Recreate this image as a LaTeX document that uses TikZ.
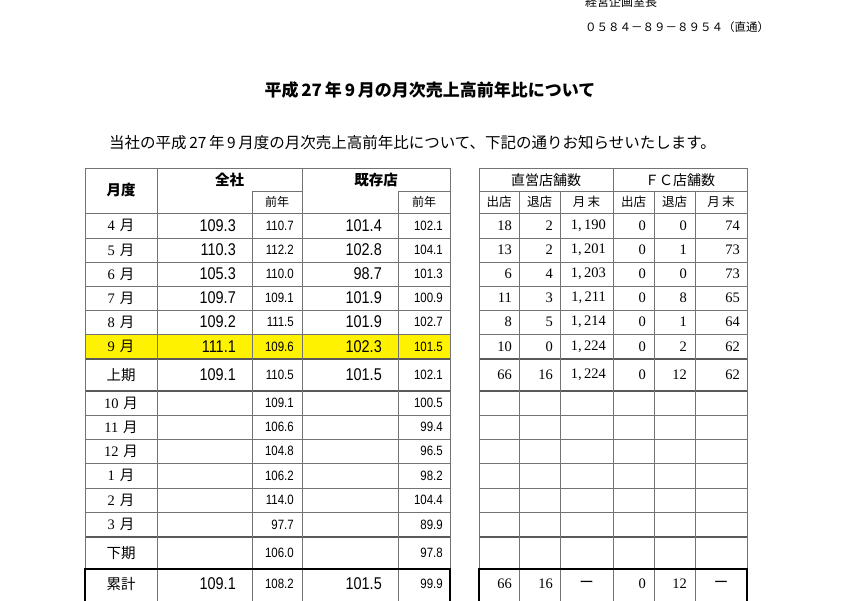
\documentclass[tikz,border=0pt]{standalone}
\usepackage{fontspec}
\setmainfont{Liberation Serif}
\newfontfamily\jp{Noto Sans CJK JP}
\newfontfamily\gothnum{Liberation Sans}[FakeStretch=0.85]
\tikzset{
  grid/.style={draw=black!55, line width=0.9pt},
  dbl/.style={draw=black!65, line width=2pt},
  sumbox/.style={draw=black, line width=1.8pt},
  big/.style={font=\gothnum\fontsize{17}{17}\selectfont, anchor=east, inner sep=0pt},
  small/.style={font=\gothnum\fontsize{13.5}{13.5}\selectfont, anchor=east, inner sep=0pt},
  cnt/.style={font=\fontsize{14.5}{14.5}\selectfont, anchor=east, inner sep=0pt},
  mon/.style={font=\fontsize{14.5}{14.5}\selectfont, inner sep=0pt},
  head/.style={font=\jp\bfseries\fontsize{14.5}{14.5}\selectfont, inner sep=0pt},
  subhead/.style={font=\jp\fontsize{12}{12}\selectfont, inner sep=0pt},
  rhead/.style={font=\jp\fontsize{14}{14}\selectfont, inner sep=0pt},
}
\newcommand{\mo}[1]{#1\,\,{\jp 月}}
\begin{document}
\begin{tikzpicture}[x=1pt, y=-1pt]
  \useasboundingbox (0,0) rectangle (849,600);
  \clip (0,0) rectangle (849,600);

  % heading
  \node[font=\jp\fontsize{12}{12}\selectfont, anchor=west, inner sep=0pt] (dept) at (585,1.5) {経営企画室長};
  \node[font=\jp\fontsize{11.5}{11.5}\selectfont, anchor=west, inner sep=0pt] (phone) at (585,27) {０５８４－８９－８９５４（直通）};
  \node[font=\jp\bfseries\fontsize{17}{17}\selectfont, inner sep=0pt] (title) at (430,90) {平成\,27\,年\,9\,月の月次売上高前年比について};
  \node[font=\jp\fontsize{15.5}{15.5}\selectfont, inner sep=0pt] (lead) at (412.5,143) {当社の平成\,27\,年\,9\,月度の月次売上高前年比について、下記の通りお知らせいたします。};

  % current month
  \fill[yellow] (85,334) rectangle (450,359);

  % grid
  \foreach \y in {168,213,238,262,286,310,334,415,439,463,488,512}
    \draw[grid] (85,\y) -- (450,\y) (479,\y) -- (747,\y);
  \draw[grid] (252,191) -- (302,191) (398,191) -- (450,191) (479,191) -- (747,191);
  \foreach \y in {359,391,537}
    \draw[dbl] (85,\y) -- (450,\y) (479,\y) -- (747,\y);
  \foreach \x in {85,157,302,450,479,613,747}
    \draw[grid] (\x,168) -- (\x,569);
  \foreach \x in {252,398,519,560,654,695}
    \draw[grid] (\x,191) -- (\x,569);
  \foreach \x in {157,252,302,398,519,560,613,654,695}
    \draw[grid] (\x,569) -- (\x,604);
  \draw[sumbox] (85,604) -- (85,569) -- (450,569) -- (450,604);
  \draw[sumbox] (479,604) -- (479,569) -- (747,569) -- (747,604);

  % table heads
  \node[head] (hmonth) at (121,190.5) {月度};
  \node[head] (hall) at (229.5,180) {全社};
  \node[head] (hexist) at (376,180) {既存店};
  \node[subhead] (hprev) at (277,202) {前年};
  \node[subhead] (hprevx) at (424,202) {前年};
  \node[rhead] (hdirect) at (546,180) {直営店舗数};
  \node[rhead] (hfc) at (680,180) {ＦＣ店舗数};
  \foreach \x/\t [count=\i] in {499/出店,539.5/退店,586.5/月\,末,633.5/出店,674.5/退店,721/月\,末}
    \node[subhead, font=\jp\fontsize{12.5}{12.5}\selectfont] (hcol\i) at (\x,202) {\t};

  % sales ratios
  \foreach \m/\y/\a/\b/\c/\d [count=\i] in {
      \mo{4}/225.5/109.3/110.7/101.4/102.1,
      \mo{5}/250/110.3/112.2/102.8/104.1,
      \mo{6}/274/105.3/110.0/98.7/101.3,
      \mo{7}/298/109.7/109.1/101.9/100.9,
      \mo{8}/322/109.2/111.5/101.9/102.7,
      \mo{9}/346.5/111.1/109.6/102.3/101.5,
      {\jp 上期}/375/109.1/110.5/101.5/102.1,
      \mo{10}/403//109.1//100.5,
      \mo{11}/427//106.6//99.4,
      \mo{12}/451//104.8//96.5,
      \mo{1}/475.5//106.2//98.2,
      \mo{2}/500//114.0//104.4,
      \mo{3}/524.5//97.7//89.9,
      {\jp 下期}/553//106.0//97.8,
      {\jp 累計}/584/109.1/108.2/101.5/99.9} {
    \node[mon] (mon\i) at (121,\y) {\m};
    \node[big] (all\i) at (236,\y) {\a};
    \node[small] (allp\i) at (294,\y) {\b};
    \node[big] (ex\i) at (382,\y) {\c};
    \node[small] (exp\i) at (443,\y) {\d};
  }

  % store counts
  \foreach \y/\a/\b/\c/\d/\e/\f [count=\i] in {
      225.5/18/2/{1,\,190}/0/0/74,
      250/13/2/{1,\,201}/0/1/73,
      274/6/4/{1,\,203}/0/0/73,
      298/11/3/{1,\,211}/0/8/65,
      322/8/5/{1,\,214}/0/1/64,
      346.5/10/0/{1,\,224}/0/2/62,
      375/66/16/{1,\,224}/0/12/62} {
    \node[cnt] (dopen\i) at (512,\y) {\a};
    \node[cnt] (dclose\i) at (553,\y) {\b};
    \node[cnt] (dend\i) at (606,\y) {\c};
    \node[cnt] (fopen\i) at (646,\y) {\d};
    \node[cnt] (fclose\i) at (687,\y) {\e};
    \node[cnt] (fend\i) at (740,\y) {\f};
  }
  \node[cnt] (dopensum) at (512,584) {66};
  \node[cnt] (dclosesum) at (553,584) {16};
  \node[mon] (dendsum) at (586.5,584) {{\jp ー}};
  \node[cnt] (fopensum) at (646,584) {0};
  \node[cnt] (fclosesum) at (687,584) {12};
  \node[mon] (fendsum) at (721,584) {{\jp ー}};
\end{tikzpicture}
\end{document}
